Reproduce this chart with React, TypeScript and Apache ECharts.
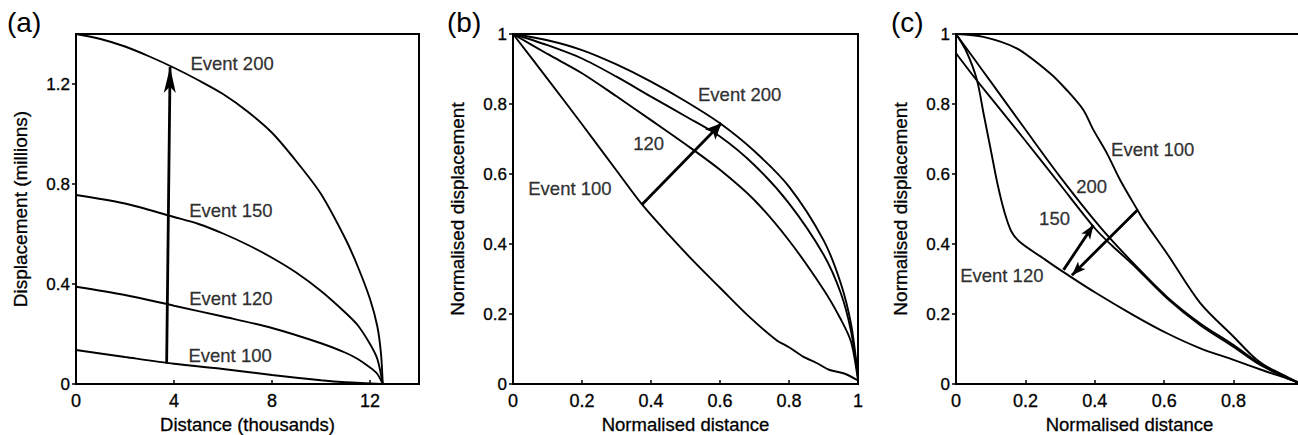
import React, { useEffect, useRef } from "react";
import * as echarts from "echarts";

// ---------- tick values ----------
const xTicksA = [0, 4, 8, 12];
const yTicksA = [0, 0.4, 0.8, 1.2];
const normTicks = [0, 0.2, 0.4, 0.6, 0.8, 1];
const normTicksC = [0, 0.2, 0.4, 0.6, 0.8];

// ---------- panel (a): displacement vs distance ----------
const aEvent200 = [
  [0, 1.4], [1, 1.38], [2, 1.35], [3, 1.31], [4, 1.265], [5, 1.215], [6, 1.16], [7, 1.09],
  [8, 1.005], [9, 0.89], [10, 0.76], [11, 0.58], [11.5, 0.47], [12, 0.34], [12.3, 0.23],
  [12.45, 0.12], [12.52, 0],
];
const aEvent150 = [
  [0, 0.756], [2, 0.722], [4, 0.668], [5, 0.64], [6, 0.602], [7, 0.557], [8, 0.505], [9, 0.445],
  [10, 0.372], [11, 0.285], [11.5, 0.235], [12, 0.16], [12.3, 0.1], [12.52, 0],
];
const aEvent120 = [
  [0, 0.389], [2, 0.356], [4, 0.313], [6, 0.27], [8, 0.224], [10, 0.163], [11, 0.125],
  [11.5, 0.1], [12, 0.066], [12.3, 0.04], [12.52, 0],
];
const aEvent100 = [
  [0, 0.136], [2, 0.108], [4, 0.081], [6, 0.06], [8, 0.036], [10, 0.015], [11, 0.007], [12.52, 0],
];
const aArrow = [[3.7, 0.082], [3.84, 1.268]];
const aLabels = [
  ["Event 200", 6.37, 1.284],
  ["Event 150", 6.32, 0.696],
  ["Event 120", 6.32, 0.343],
  ["Event 100", 6.29, 0.116],
];

// ---------- panel (b): normalised ----------
const bEvent200 = [
  [0, 1], [0.1, 0.982], [0.2, 0.954], [0.3, 0.913], [0.4, 0.864], [0.5, 0.808], [0.6, 0.745],
  [0.7, 0.665], [0.8, 0.564], [0.9, 0.411], [0.95, 0.288], [0.98, 0.17], [1, 0.02],
];
const bEvent150 = [
  [0, 1], [0.1, 0.968], [0.2, 0.93], [0.3, 0.878], [0.4, 0.821], [0.5, 0.765], [0.6, 0.707],
  [0.7, 0.625], [0.8, 0.516], [0.9, 0.37], [0.95, 0.26], [0.98, 0.15], [1, 0.02],
];
const bEvent120 = [
  [0, 1], [0.1, 0.943], [0.2, 0.888], [0.3, 0.822], [0.4, 0.754], [0.5, 0.685], [0.6, 0.612],
  [0.7, 0.525], [0.8, 0.41], [0.9, 0.27], [0.95, 0.185], [0.98, 0.12], [1, 0.01],
];
const bEvent100 = [
  [0, 1], [0.1, 0.872], [0.2, 0.742], [0.3, 0.61], [0.374, 0.513], [0.45, 0.428], [0.531, 0.343],
  [0.6, 0.275], [0.686, 0.191], [0.763, 0.126], [0.8, 0.105], [0.841, 0.078], [0.88, 0.06],
  [0.918, 0.04], [0.96, 0.03], [1, 0.01],
];
const bArrow = [[0.374, 0.513], [0.604, 0.745]];
const bLabels = [
  ["Event 200", 0.657, 0.826],
  ["120", 0.393, 0.688],
  ["Event 100", 0.165, 0.559],
];

// ---------- panel (c): normalised ----------
const cEvent100 = [
  [0, 1], [0.079, 0.992], [0.175, 0.959], [0.271, 0.888], [0.319, 0.84], [0.367, 0.783],
  [0.396, 0.726], [0.435, 0.659], [0.473, 0.583], [0.523, 0.497], [0.54, 0.469], [0.608, 0.373],
  [0.704, 0.231], [0.8, 0.135], [0.867, 0.069], [0.935, 0.026], [0.983, 0.005], [1, 0],
];
const cEvent120 = [
  [0, 1], [0.03, 0.95], [0.06, 0.87], [0.08, 0.77], [0.1, 0.67], [0.12, 0.57], [0.14, 0.49],
  [0.16, 0.435], [0.185, 0.405], [0.25, 0.36], [0.3, 0.326], [0.4, 0.262], [0.511, 0.197],
  [0.608, 0.145], [0.704, 0.102], [0.8, 0.069], [0.896, 0.035], [0.954, 0.016], [1, 0],
];
const cEvent200 = [
  [0, 1], [0.05, 0.932], [0.1, 0.864], [0.2, 0.727], [0.3, 0.592], [0.415, 0.449],
  [0.511, 0.345], [0.608, 0.249], [0.704, 0.173], [0.8, 0.111], [0.867, 0.064],
  [0.935, 0.03], [0.983, 0.006], [1, 0],
];
const cEvent150 = [
  [0, 0.945], [0.05, 0.88], [0.1, 0.818], [0.2, 0.695], [0.3, 0.57], [0.4, 0.445],
  [0.45, 0.395], [0.511, 0.34], [0.608, 0.245], [0.704, 0.168], [0.8, 0.106],
  [0.867, 0.06], [0.935, 0.025], [0.983, 0.005], [1, 0],
];
const cArrowUp = [[0.31, 0.326], [0.396, 0.454]];
const cArrowDown = [[0.523, 0.497], [0.334, 0.311]];
const cLabels = [
  ["Event 100", 0.567, 0.669],
  ["200", 0.391, 0.564],
  ["150", 0.284, 0.473],
  ["Event 120", 0.132, 0.311],
];

const FONT = "'Liberation Sans', Arial, Helvetica, sans-serif";
const INK = "#000";

function curve(data: number[][], idx: number) {
  return {
    type: "line",
    xAxisIndex: idx,
    yAxisIndex: idx,
    data,
    showSymbol: false,
    symbol: "none",
    smooth: 0.3,
    lineStyle: { color: INK, width: 1.9 },
    silent: true,
    z: 3,
  };
}

function arrow(pts: number[][], idx: number, size: number[]) {
  return {
    type: "line",
    xAxisIndex: idx,
    yAxisIndex: idx,
    data: [],
    silent: true,
    markLine: {
      silent: true,
      animation: false,
      symbol: ["none", "arrow"],
      symbolSize: size,
      label: { show: false },
      emphasis: { disabled: true },
      lineStyle: { color: INK, width: 2.8, type: "solid" },
      data: [[{ coord: pts[0] }, { coord: pts[1] }]],
    },
  };
}

function labels(items: (string | number)[][], idx: number) {
  return {
    type: "scatter",
    xAxisIndex: idx,
    yAxisIndex: idx,
    data: items.map((d) => [d[1], d[2], d[0]]),
    symbolSize: 1,
    itemStyle: { color: "rgba(0,0,0,0)" },
    silent: true,
    z: 5,
    label: {
      show: true,
      position: "inside",
      formatter: (p: any) => p.value[2],
      color: INK,
      fontSize: 18.5,
      fontFamily: FONT,
      textBorderColor: INK,
      textBorderWidth: 0.3,
    },
  };
}

function xAxisCfg(idx: number, max: number, ticks: number[], labelTicks: number[], name: string) {
  return {
    gridIndex: idx,
    type: "value",
    min: 0,
    max,
    name,
    nameLocation: "middle",
    nameGap: 31,
    nameTextStyle: { color: INK, fontSize: 18.5, fontFamily: FONT, textBorderColor: INK, textBorderWidth: 0.3 },
    axisLine: { show: true, onZero: false, lineStyle: { color: INK, width: 2 } },
    axisTick: { show: true, inside: true, length: 4, customValues: ticks, lineStyle: { color: INK, width: 1.5 } },
    axisLabel: {
      customValues: labelTicks, color: INK, fontSize: 18, fontFamily: FONT, margin: 8,
      textBorderColor: INK, textBorderWidth: 0.3,
    },
    splitLine: { show: false },
  };
}

function yAxisCfg(idx: number, max: number, ticks: number[], name: string) {
  return {
    gridIndex: idx,
    type: "value",
    min: 0,
    max,
    name,
    nameLocation: "middle",
    nameGap: 46,
    nameRotate: 90,
    nameTextStyle: { color: INK, fontSize: 19, fontFamily: FONT, textBorderColor: INK, textBorderWidth: 0.3 },
    axisLine: { show: true, onZero: false, lineStyle: { color: INK, width: 2 } },
    axisTick: { show: true, inside: false, length: 4, customValues: ticks, lineStyle: { color: INK, width: 1.5 } },
    axisLabel: {
      customValues: ticks, color: INK, fontSize: 17, fontFamily: FONT, margin: 6,
      textBorderColor: INK, textBorderWidth: 0.3,
    },
    splitLine: { show: false },
  };
}

export default function App() {
  const ref = useRef<HTMLDivElement>(null);
  useEffect(() => {
    if (!ref.current) return;
    const chart = echarts.init(ref.current, null, { renderer: "svg" });
    const grids = [
      { left: 76, top: 34, width: 343, height: 350 },
      { left: 513, top: 34, width: 345, height: 350 },
      { left: 956, top: 34, width: 347, height: 350 },
    ].map((g) => ({
      ...g,
      show: true,
      borderColor: INK,
      borderWidth: 2,
      backgroundColor: "transparent",
      containLabel: false,
      outerBoundsMode: "none",
    }));

    chart.setOption({
      animation: false,
      backgroundColor: "#fff",
      grid: grids,
      xAxis: [
        xAxisCfg(0, 14, xTicksA, xTicksA, "Distance (thousands)"),
        xAxisCfg(1, 1, normTicks, normTicks, "Normalised distance"),
        xAxisCfg(2, 1, normTicks, normTicksC, "Normalised distance"),
      ],
      yAxis: [
        yAxisCfg(0, 1.4, yTicksA, "Displacement (millions)"),
        yAxisCfg(1, 1, normTicks, "Normalised displacement"),
        yAxisCfg(2, 1, normTicks, "Normalised displacement"),
      ],
      graphic: [
        { type: "text", left: 7, top: 8, style: { text: "(a)", font: `28px ${FONT}`, fill: INK } },
        { type: "text", left: 447, top: 8, style: { text: "(b)", font: `28px ${FONT}`, fill: INK } },
        { type: "text", left: 891, top: 8, style: { text: "(c)", font: `28px ${FONT}`, fill: INK } },
      ],
      series: [
        curve(aEvent200, 0),
        curve(aEvent150, 0),
        curve(aEvent120, 0),
        curve(aEvent100, 0),
        arrow(aArrow, 0, [9, 26]),
        labels(aLabels, 0),
        curve(bEvent200, 1),
        curve(bEvent150, 1),
        curve(bEvent120, 1),
        curve(bEvent100, 1),
        arrow(bArrow, 1, [11, 16]),
        labels(bLabels, 1),
        curve(cEvent100, 2),
        curve(cEvent120, 2),
        curve(cEvent200, 2),
        curve(cEvent150, 2),
        arrow(cArrowUp, 2, [8, 14]),
        arrow(cArrowDown, 2, [8, 14]),
        labels(cLabels, 2),
      ],
    });
    return () => chart.dispose();
  }, []);
  return (
    <div
      ref={ref}
      style={{ position: "fixed", left: 0, top: 0, width: 1298, height: 435, background: "#fff" }}
    />
  );
}
